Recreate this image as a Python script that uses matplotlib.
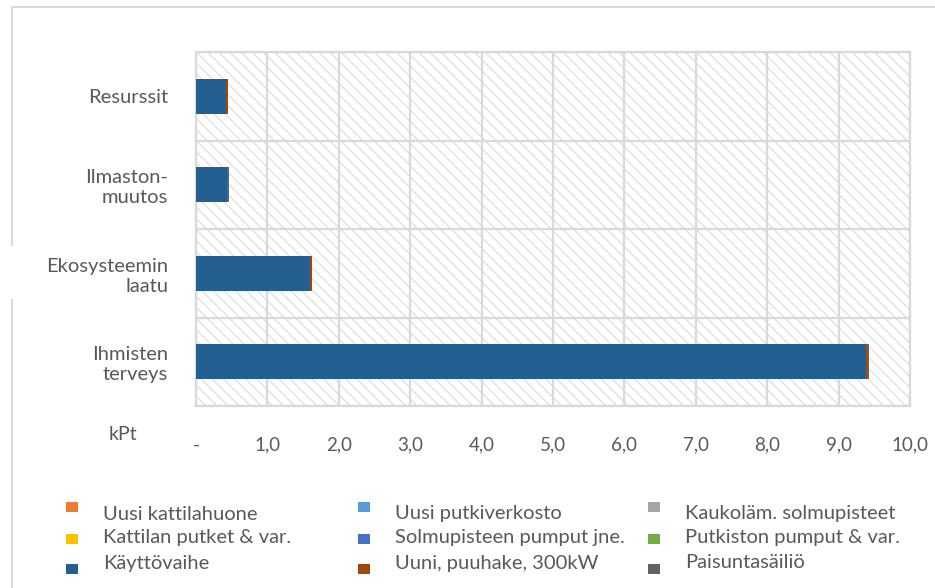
import matplotlib
matplotlib.use("Agg")
import matplotlib.pyplot as plt
from matplotlib.patches import Rectangle
from matplotlib.lines import Line2D
import numpy as np

plt.rcParams['font.family'] = ['Lato', 'DejaVu Sans']
plt.rcParams['hatch.color'] = '#dedede'
plt.rcParams['hatch.linewidth'] = 0.9

# impact categories, bottom to top
categories = ['Ihmisten\nterveys', 'Ekosysteemin\nlaatu', 'Ilmaston-\nmuutos', 'Resurssit']

# kPt per life-cycle part, same order as categories
uusi_kattilahuone = [0.0, 0.0, 0.0, 0.0]
uusi_putkiverkosto = [0.0, 0.0, 0.0, 0.0]
kaukolam_solmupisteet = [0.0, 0.0, 0.0, 0.0]
kattilan_putket = [0.0, 0.0, 0.0, 0.0]
solmupisteen_pumput = [0.0, 0.0, 0.0, 0.0]
putkiston_pumput = [0.0, 0.0, 0.0, 0.0]
kayttovaihe = [9.39, 1.59, 0.43, 0.42]
uuni_puuhake = [0.01, 0.03, 0.01, 0.03]
paisuntasailio = [0.02, 0.0, 0.02, 0.0]

series = [
    ('Uusi kattilahuone', uusi_kattilahuone, '#ed7d31'),
    ('Uusi putkiverkosto', uusi_putkiverkosto, '#5b9bd5'),
    ('Kaukoläm. solmupisteet', kaukolam_solmupisteet, '#a5a5a5'),
    ('Kattilan putket & var.', kattilan_putket, '#ffc000'),
    ('Solmupisteen pumput jne.', solmupisteen_pumput, '#4472c4'),
    ('Putkiston pumput & var.', putkiston_pumput, '#70ad47'),
    ('Käyttövaihe', kayttovaihe, '#255e91'),
    ('Uuni, puuhake, 300kW', uuni_puuhake, '#9e480e'),
    ('Paisuntasäiliö', paisuntasailio, '#636363'),
]

x_ticks = [0, 1, 2, 3, 4, 5, 6, 7, 8, 9, 10]
x_ticklabels = ['-', '1,0', '2,0', '3,0', '4,0', '5,0', '6,0', '7,0', '8,0', '9,0', '10,0']

txt = '#595959'
grid = '#d9d9d9'

fig = plt.figure(figsize=(9.35, 5.88), dpi=100)
W, H = 935, 588

# outer chart frame
fig.add_artist(Line2D([12 / W, 1], [1 - 7 / H, 1 - 7 / H], color='#d9d9d9', lw=1.5))
fig.add_artist(Line2D([12 / W, 12 / W], [1 - 7 / H, 1 - 245 / H], color='#d9d9d9', lw=1.5))
fig.add_artist(Line2D([12 / W, 12 / W], [1 - 300 / H, 0], color='#d9d9d9', lw=1.5))

ax = fig.add_axes([196 / W, 1 - 406 / H, 714 / W, 354 / H])
ax.patch.set_facecolor('white')
ax.patch.set_hatch('\\\\\\')
ax.patch.set_edgecolor('#dedede')
ax.patch.set_linewidth(0)

y = np.arange(len(categories))
left = np.zeros(len(categories))
for name, vals, col in series:
    ax.barh(y, vals, left=left, height=0.39, color=col, zorder=3)
    left += np.array(vals)

ax.set_xlim(0, 10)
ax.set_ylim(-0.5, 3.5)
ax.set_xticks(x_ticks)
ax.set_xticklabels(x_ticklabels, fontsize=13.5)
ax.set_yticks(y)
ax.set_yticklabels(categories, multialignment='right', linespacing=1.2, fontsize=14.5)
ax.set_yticks([-0.5, 0.5, 1.5, 2.5, 3.5], minor=True)
ax.tick_params(axis='both', which='both', length=0, colors=txt)
ax.tick_params(axis='x', pad=22)
ax.tick_params(axis='y', pad=20)
ax.grid(axis='x', which='major', color=grid, lw=1.6, zorder=1)
ax.grid(axis='y', which='minor', color=grid, lw=1.6, zorder=1)
for s in ax.spines.values():
    s.set_color(grid)
    s.set_linewidth(1.6)

fig.text(123 / W, 1 - 435 / H, 'kPt', color=txt, fontsize=14, ha='center', va='center')

# legend, filled row by row
col_x = [66, 358, 648]
text_y = [514, 538, 563]
mark_y = [507, 539, 569]
for i, (name, vals, col) in enumerate(series):
    r, c = divmod(i, 3)
    fig.add_artist(Rectangle(((col_x[c]) / W, 1 - (mark_y[r] + 5) / H), 12 / W, 10 / H,
                             facecolor=col, edgecolor='none', transform=fig.transFigure))
    fig.text((col_x[c] + 37) / W, 1 - text_y[r] / H, name, color=txt, fontsize=14.5,
             ha='left', va='center')

fig.savefig('out.png', dpi=100)
